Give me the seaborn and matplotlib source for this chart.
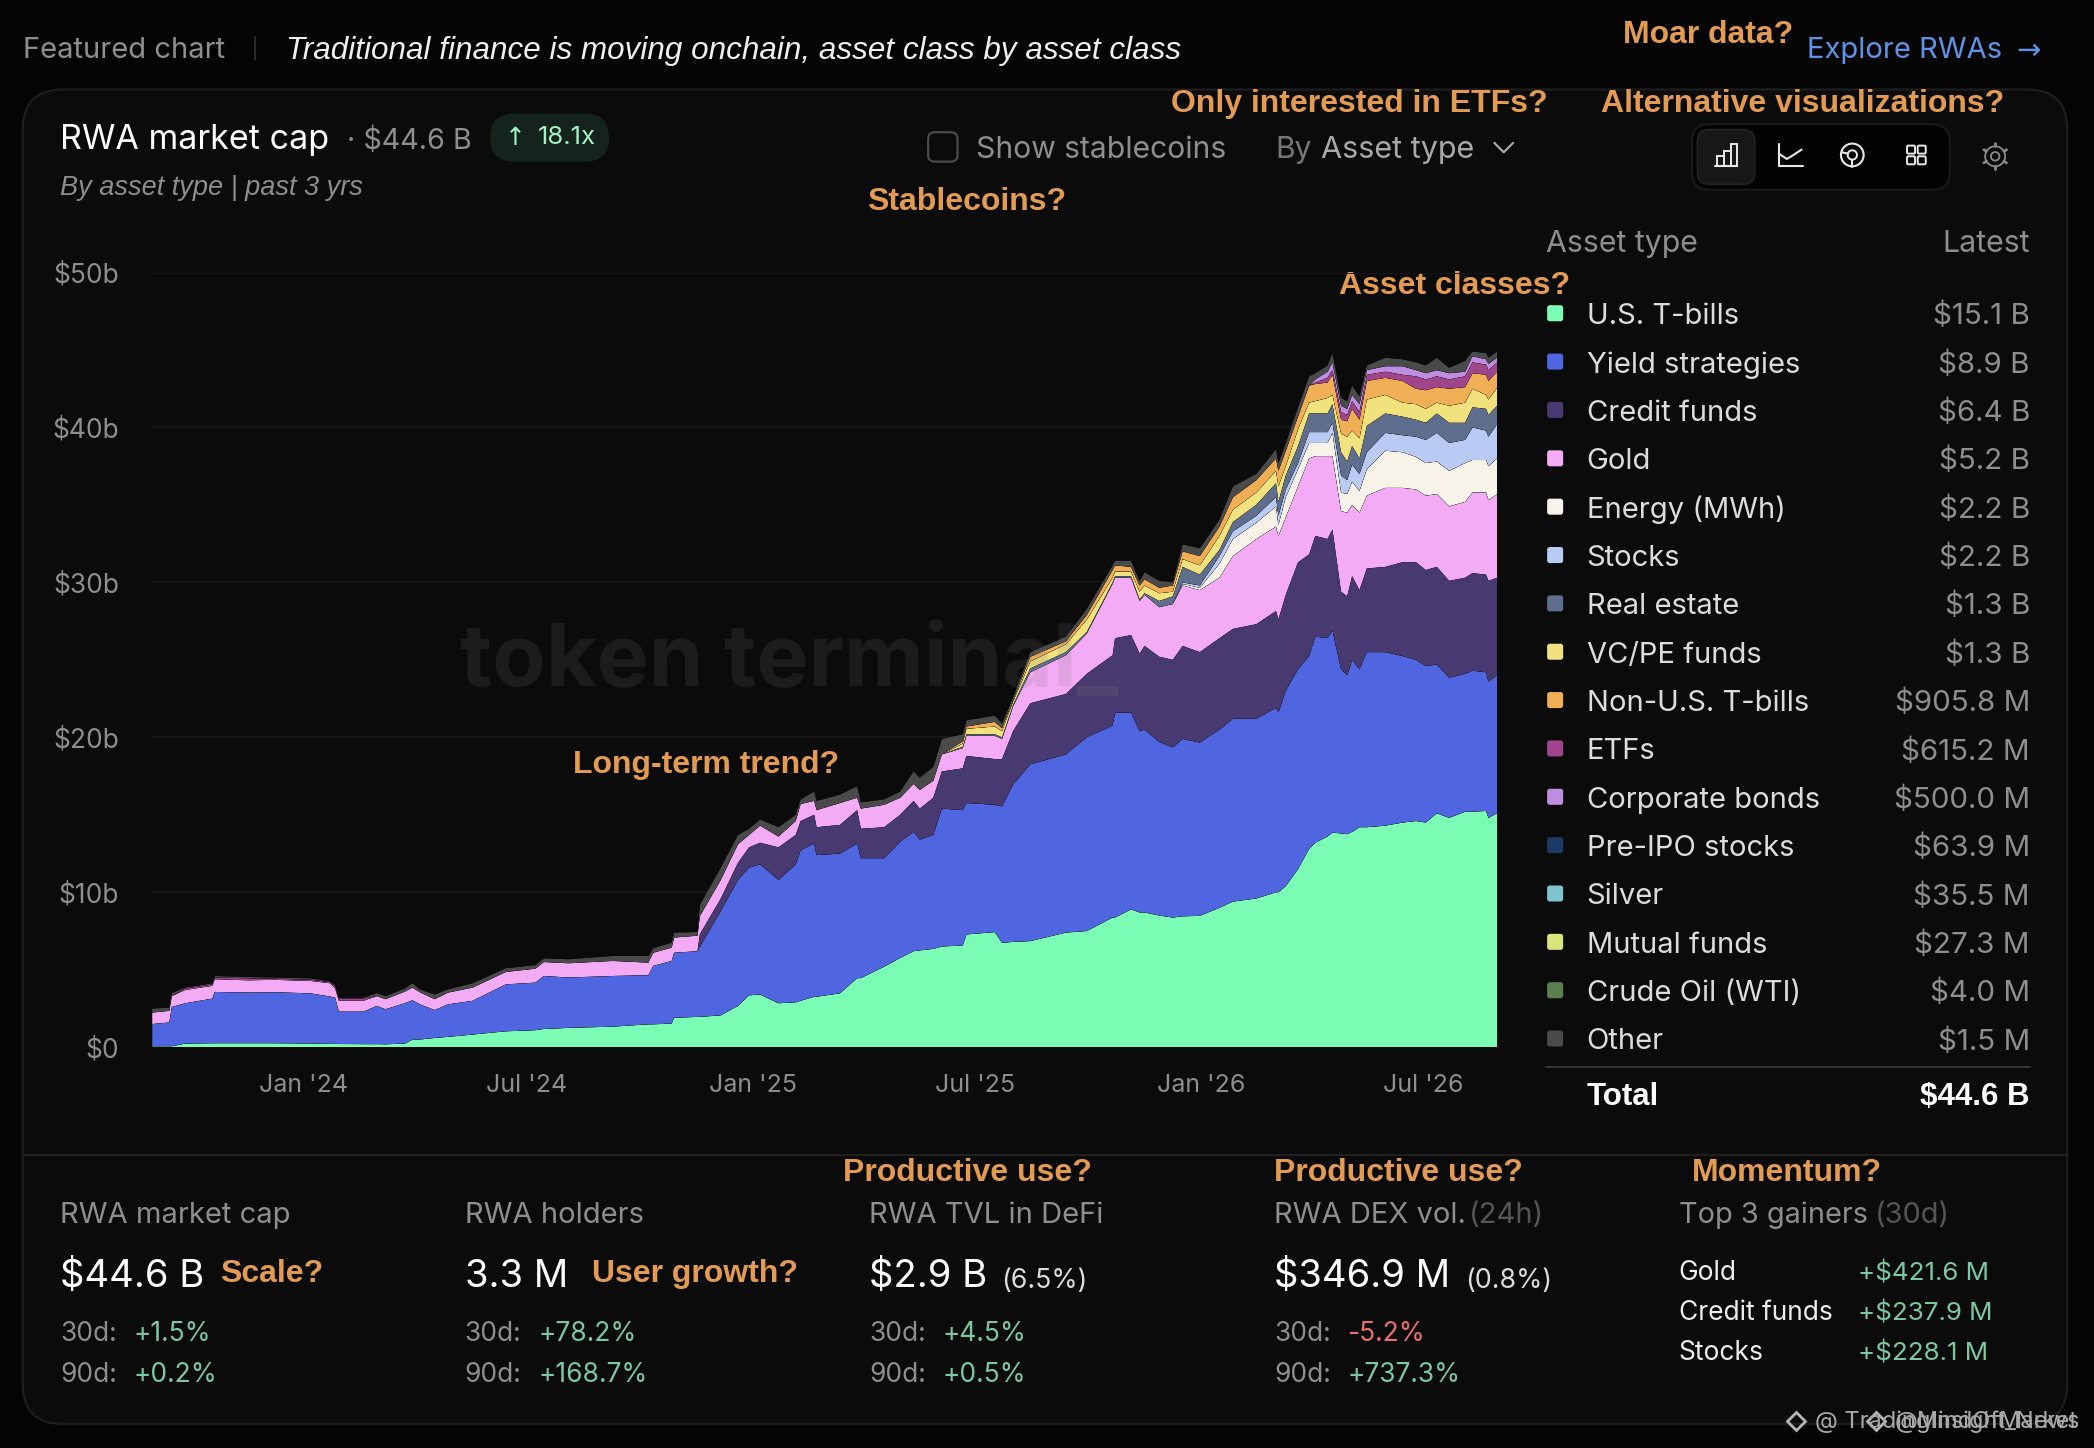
import datetime as dt
import numpy as np
import pandas as pd
import seaborn as sns
import seaborn.objects as so
import matplotlib
matplotlib.use("Agg")
import matplotlib.pyplot as plt
from matplotlib.patches import FancyBboxPatch, Rectangle, Circle

# ---------- data: top edge of each stacked band, in $ billions ----------
start_date = dt.date(2023, 8, 30)
end_date = dt.date(2026, 8, 30)
days = [1,15,17,28,50,52,79,101,130,146,150,153,173,184,191,207,213,219,231,242,262,289,313,320,340,376,405,409,424,426,445,
        447,464,478,487,496,511,525,529,540,542,561,575,578,597,610,621,626,637,644,661,664,687,693,702,716,745,762,783,785,798,
        805,809,821,832,840,854,870,881,900,916,918,924,934,943,948,958,962,969,974,978,984,990,1005,1019,1030,1038,1047,1057,1070,1076,1087,1089,1096]

tbills_top = [.06,.06,.06,.24,.26,.26,.26,.26,.24,.22,.22,.21,.2,.2,.19,.24,.5,.5,.6,.67,.82,1.03,1.1,1.18,1.25,1.33,1.48,1.48,1.53,1.9,1.96,
              1.96,2.06,2.67,3.35,3.4,2.84,2.9,3.0,3.26,3.26,3.48,4.46,4.46,5.2,5.76,6.2,6.25,6.35,6.5,6.57,
              7.28,7.43,6.74,6.8,6.85,7.4,7.5,8.37,8.37,8.9,8.7,8.7,8.5,8.37,8.45,8.48,9.0,9.4,9.6,10,
              10,10.4,11.5,12.8,13.2,13.6,13.85,13.8,13.75,13.9,14.2,14.2,14.3,14.5,14.6,14.5,15.1,14.8,15.2,15.2,15.25,14.8,15.1]
yield_top = [1.5,1.6,2.6,2.84,3.14,3.57,3.53,3.55,3.48,3.27,3.2,2.3,2.3,2.67,2.45,2.85,3.03,2.77,2.4,2.77,3.0,4.06,4.17,4.6,4.5,4.6,4.65,5.25,5.57,6.1,6.2,
             6.5,8.8,10.8,11.6,11.8,10.8,11.8,12.7,13.15,12.4,12.5,13.15,12.2,12.2,13.26,13.9,13.4,13.7,15.4,15.3,
             15.76,15.65,15.54,16.96,18.26,18.9,20,20.76,21.6,21.6,20.4,20.5,19.7,19.35,19.9,19.66,20.5,21.2,21.2,21.9,
             21.6,23,24.4,25.25,26.5,26.4,26.9,24.4,24,25,24.4,25.5,25.5,25.25,25,24.6,24.7,23.85,24.1,24.3,24.2,23.6,24]
credit_top = yield_top[:31] + [7.3,9.6,11.9,12.9,13.2,12.9,13.7,14.6,15,14.2,14.35,15.3,14.1,14.2,15,15.9,15.4,16.1,17.8,18,
             18.8,18.6,18.6,20.4,22.2,22.8,24.1,25.3,26.4,26.6,25.4,25.9,25.2,25,25.9,25.5,26.4,27,27.3,28.15,
             27.6,29.2,31.3,31.8,33,32.8,33.4,29.4,29.1,30.4,29.5,30.9,31,31.3,31.3,30.8,31,30.1,30.3,30.6,30.5,30.1,30.3]
gold_top = [2.24,2.35,3.3,3.7,3.96,4.39,4.32,4.35,4.28,4.13,3.8,3.0,3.0,3.3,3.1,3.6,3.85,3.55,3.1,3.53,3.85,4.86,5.07,5.5,5.42,5.57,5.46,6.1,6.43,7.08,7.2,
            8.47,10.8,13.1,13.7,14.3,13.6,14.6,15.7,15.9,15.3,15.76,16.1,15.4,15.65,16.1,17,16.6,17.2,18.9,19.3,
            20.1,20.1,19.9,22,24.2,25.3,26.7,29.9,30.3,30.3,28.8,29.2,28.4,28.6,29.8,29.5,30.3,31.7,32.8,33.6,
            33,34.2,36.2,38,38.15,38.15,38.15,34.6,34.5,35,34.5,35.6,36.1,36.1,36,35.6,35.7,34.9,35.2,35.8,35.8,35.3,35.7]
energy_top = gold_top[:65] + [29.9,29.65,31.2,32.8,33.85,34.9,33.7,35.5,37.3,39,39,39,39.65,35.8,35.7,36.5,
             35.9,37.3,38.5,38.4,38.1,37.7,37.8,37.2,37.7,37.9,37.9,37.5,38]
stocks_top = gold_top[:65] + [30,29.8,31.7,33.3,34.3,35.5,34.3,36,37.7,39.7,39.7,39.7,40.3,36.9,36.6,37.6,
             37,38.4,39.65,39.5,39.4,39.2,39.65,39,39.2,40,39.8,39.4,40.2]
realestate_top = gold_top[:50] + [19.4,20.2,20.2,20,22.1,24.45,25.5,26.8,30,30.4,30.4,28.9,29.3,28.8,29.1,31,30.5,32.1,33.9,35,
             36.4,35.2,36.9,38.8,40.9,40.9,40.9,41.5,38.4,37.8,38.8,38,40.1,40.9,40.7,40.5,40.3,40.9,40.3,40.3,41.3,41.2,40.8,41.4]
vcpe_top = gold_top[:50] + [19.6,20.55,20.7,20.4,22.3,24.9,26,27.6,30.3,30.7,30.7,29.4,29.8,29.3,29.4,31.5,31.1,33,34.7,35.8,
             37.2,36.2,37.5,39.9,41.6,41.7,41.9,42.1,39.6,39.4,39.8,39.3,41.8,42.1,41.6,41.5,41.2,41.6,41.4,41.6,42.5,42.1,41.8,42.55]
nonus_top = gold_top[:50] + [19.75,20.7,21,20.6,22.4,25.2,26.2,27.9,30.8,31.1,31,29.8,30.2,29.65,29.8,32,31.7,33.6,35.5,36.6,
             38,37.2,38.5,40.7,42.7,42.8,42.9,43.4,40.5,40.4,41.2,40.5,43,43.2,43,42.5,42.4,42.6,42.5,42.6,43.5,43.4,43,43.6]
etf_top = [2.24,2.35,3.3,3.8,4.05,4.5,4.45,4.42,4.36,4.2,3.95,3.15,3.15,3.3] + gold_top[14:31] + nonus_top[31:75] + \
          [42.9,43.2,43.7,41,40.8,41.7,41,43.4,43.6,43.4,43.3,43.1,43.3,43.1,43.3,44.2,44.05,43.7,44.2]
corp_top = etf_top[:75] + [43.1,43.6,44.2,41.4,41.2,42.1,41.5,43.7,43.95,43.95,43.7,43.5,43.7,43.5,43.6,44.6,44.4,44.1,44.5]
total_top = [2.5,2.55,3.5,3.85,4.13,4.6,4.54,4.5,4.45,4.24,4.0,3.2,3.2,3.5,3.3,3.8,4.13,3.74,3.4,3.74,4.13,5.1,5.3,5.74,5.68,5.89,5.89,6.39,6.75,7.4,7.44,
             9.2,11.6,13.7,14.1,14.7,14.2,15.0,16.0,16.5,15.9,16.3,16.85,15.8,16,16.5,17.8,17.4,18.1,19.9,20.2,
             21.1,21.4,20.9,22.6,25.5,26.5,28.3,31.1,31.4,31.4,30.1,30.65,30.1,30,32.45,32.2,34.06,36.2,37,38.6,
             37.7,39,41.3,43.3,43.5,44,44.8,41.9,41.7,42.7,42,44,44.5,44.4,44.2,44,44.5,43.85,44.3,44.9,44.8,44.5,44.9]

stack_names = ["U.S. T-bills","Yield strategies","Credit funds","Gold","Energy (MWh)","Stocks","Real estate",
               "VC/PE funds","Non-U.S. T-bills","ETFs","Corporate bonds","Other"]
stack_tops = [tbills_top,yield_top,credit_top,gold_top,energy_top,stocks_top,realestate_top,vcpe_top,nonus_top,etf_top,corp_top,total_top]

legend_names = ["U.S. T-bills","Yield strategies","Credit funds","Gold","Energy (MWh)","Stocks","Real estate","VC/PE funds",
                "Non-U.S. T-bills","ETFs","Corporate bonds","Pre-IPO stocks","Silver","Mutual funds","Crude Oil (WTI)","Other"]
legend_latest = ["$15.1 B","$8.9 B","$6.4 B","$5.2 B","$2.2 B","$2.2 B","$1.3 B","$1.3 B","$905.8 M","$615.2 M","$500.0 M",
                 "$63.9 M","$35.5 M","$27.3 M","$4.0 M","$1.5 M"]
legend_colors = ["#7BFDB5","#4F66E0","#483A70","#F3ABF5","#F7F3E8","#B9CAF5","#5F6E8C","#F2E27E","#F0AE55","#A0458C",
                 "#BE8FE0","#1D3A66","#7FC4CC","#D9E57A","#5B7F4E","#4A4A4A"]
palette = dict(zip(legend_names, legend_colors))

ytick_vals = [0,10,20,30,40,50]
ytick_labels = ["$0","$10b","$20b","$30b","$40b","$50b"]
xtick_dates = [dt.date(2024,1,1),dt.date(2024,7,1),dt.date(2025,1,1),dt.date(2025,7,1),dt.date(2026,1,1),dt.date(2026,7,1)]
xtick_labels = ["Jan '24","Jul '24","Jan '25","Jul '25","Jan '26","Jul '26"]

# ---------- table ----------
dates = [start_date + dt.timedelta(days=d) for d in days]
rows = []
prev = np.zeros(len(days))
for name, top in zip(stack_names, stack_tops):
    top = np.asarray(top, float)
    rows.append(pd.DataFrame({"date": pd.to_datetime(dates), "asset": name, "value": np.clip(top - prev, 0, None)}))
    prev = np.maximum(prev, top)
df = pd.concat(rows, ignore_index=True)

# ---------- theme and figure ----------
sns.set_theme(style="dark", rc={"axes.facecolor": "none", "figure.facecolor": "#040404", "savefig.facecolor": "#040404"})
plt.rcParams["font.family"] = ["Inter", "DejaVu Sans"]
W, H = 1568.0, 1084.0
fig = plt.figure(figsize=(20.94, 14.48), dpi=100)
ui = fig.add_axes([0, 0, 1, 1], zorder=0)
ui.set_xlim(0, W); ui.set_ylim(H, 0); ui.axis("off")

ORANGE = "#E39B52"; GRAY = "#8E8E8E"; LIGHT = "#DCDCDC"; GREEN = "#7CC8A0"; RED = "#E8706E"; BAR = "#202020"
ITAL = "Liberation Sans"

def t(x, y, s, size=21, color=LIGHT, ha="left", family=None, **kw):
    if family is not None:
        kw["family"] = family
    ui.text(x, y + 2, s, fontsize=size, color=color, ha=ha, va="center", **kw)

def note(x, y, s):
    t(x, y - 1, s, size=23, color=ORANGE, family="Liberation Sans", fontweight="bold")

# card
ui.add_patch(FancyBboxPatch((17, 67), 1531, 999, boxstyle="round,pad=0,rounding_size=30",
                            fc="#0B0B0B", ec="#1E1E1E", lw=1.6))
ui.plot([17, 1548], [865, 865], color=BAR, lw=1.5)

# ---------- chart ----------
ax = fig.add_axes([113/W, 1-784/H, (1121-113)/W, (784-204)/H], zorder=1)
(so.Plot(df, x="date", y="value", color="asset")
   .add(so.Area(alpha=1, edgewidth=0), so.Stack(), legend=False)
   .scale(color=so.Nominal(palette, order=stack_names))
   .on(ax).plot())
ax.set_xlim(pd.Timestamp(start_date), pd.Timestamp(end_date))
ax.set_ylim(0, 50)
ax.set_yticks(ytick_vals, ytick_labels)
ax.set_xticks(pd.to_datetime(xtick_dates), xtick_labels)
ax.set_xlabel(""); ax.set_ylabel("")
ax.set_facecolor("none")
ax.grid(False)
ax.grid(axis="y", color="#181818", lw=1.3)
ax.set_axisbelow(True)
sns.despine(ax=ax, left=True, bottom=True, right=True, top=True)
ax.tick_params(axis="y", length=0, pad=23, labelsize=19, labelcolor=GRAY)
ax.tick_params(axis="x", length=10, width=1.2, color="#1F1F1F", pad=9, labelsize=18, labelcolor=GRAY)
for lab in ax.get_xticklabels() + ax.get_yticklabels():
    lab.set_family(["Inter", "DejaVu Sans"])
ax.text(591/W, 1-497/H, "token terminal_", transform=fig.transFigure, ha="center", va="center",
        fontsize=63, fontweight="bold", color="#7A7A7A", alpha=0.16, zorder=10)

# ---------- header ----------
t(17, 36, "Featured chart", color=GRAY)
ui.plot([191, 191], [28, 45], color="#2A2A2A", lw=1.4)
t(214, 36, "Traditional finance is moving onchain, asset class by asset class", size=22.6, color="#F0F0F0", family=ITAL, style="italic")
note(1215, 25, "Moar data?")
t(1353, 36, "Explore RWAs", color="#5E93E8")
t(1510, 36, "→", color="#5E93E8", family="DejaVu Sans")

t(45, 103, "RWA market cap", size=24.5, color="#FFFFFF")
t(260, 104, "· $44.6 B", size=20.7, color=GRAY)
ui.add_patch(FancyBboxPatch((367, 85), 89, 36, boxstyle="round,pad=0,rounding_size=18", fc="#14241C", ec="none"))
t(378, 101, "↑", size=18, color="#A6F0C8", family="DejaVu Sans")
t(403, 101, "18.1x", size=18.5, color="#A6F0C8")
t(45, 139, "By asset type | past 3 yrs", size=19.5, color=GRAY, family=ITAL, style="italic")

ui.add_patch(FancyBboxPatch((695, 99), 22, 22, boxstyle="round,pad=0,rounding_size=5", fc="none", ec="#4A4A4A", lw=1.6))
t(731, 110, "Show stablecoins", size=21.6, color=GRAY)
t(955, 110, "By", size=21.6, color="#777777")
t(989, 110, "Asset type", size=22, color="#A8A8A8")
ui.plot([1119, 1126, 1133], [107, 114, 107], color="#A8A8A8", lw=1.6)

note(877, 77, "Only interested in ETFs?")
note(1199, 77, "Alternative visualizations?")
note(649, 150, "Stablecoins?")
note(1003, 213, "Asset classes?")
note(429, 572, "Long-term trend?")

# toolbar icons
ui.add_patch(FancyBboxPatch((1267, 93), 193, 49, boxstyle="round,pad=0,rounding_size=13", fc="#030303", ec="#1B1B1B", lw=1.4))
ui.add_patch(FancyBboxPatch((1271, 97), 43, 41, boxstyle="round,pad=0,rounding_size=9", fc="#171717", ec="#222222", lw=1.2))
ic = dict(color="#E8E8E8", lw=1.5, solid_capstyle="round")
ui.plot([1284, 1301], [124, 124], **ic)
for x0, y0 in [(1286, 117), (1291, 113), (1296, 108)]:
    ui.add_patch(Rectangle((x0, y0), 5, 124-y0, fc="none", ec="#E8E8E8", lw=1.4))
ui.plot([1332, 1332, 1350], [108, 124, 124], **ic)
ui.plot([1332, 1338, 1343, 1349], [115, 119, 116, 112], **ic)
ui.add_patch(Circle((1387, 116), 8.5, fc="none", ec="#E8E8E8", lw=1.5))
ui.add_patch(Circle((1387, 116), 3.5, fc="#030303", ec="#E8E8E8", lw=1.4))
ui.plot([1379, 1384], [114, 115], **ic); ui.plot([1387, 1387], [120, 125], **ic)
for cx in (1431, 1439):
    for cy in (112, 120):
        ui.add_patch(FancyBboxPatch((cx-3, cy-3), 6, 6, boxstyle="round,pad=0,rounding_size=1", fc="none", ec="#E8E8E8", lw=1.4))
ui.add_patch(Circle((1494, 117), 3.2, fc="none", ec="#8A8A8A", lw=1.3))
ui.add_patch(Circle((1494, 117), 7.5, fc="none", ec="#8A8A8A", lw=1.3))
for a in np.deg2rad(np.arange(0, 360, 60) + 30):
    ui.plot([1494+7.5*np.cos(a), 1494+9.8*np.cos(a)], [117+7.5*np.sin(a), 117+9.8*np.sin(a)], color="#8A8A8A", lw=2)

# ---------- legend table ----------
t(1158, 181, "Asset type", color=GRAY, size=21.8)
t(1520, 181, "Latest", color=GRAY, size=21.8, ha="right")
ys = np.linspace(235, 778, len(legend_names))
for yy, n, v, c in zip(ys, legend_names, legend_latest, legend_colors):
    ui.add_patch(FancyBboxPatch((1158.5, yy-6.5), 12, 12, boxstyle="round,pad=0,rounding_size=2", fc=c, ec="none"))
    t(1188, yy, n, size=21, color=LIGHT)
    t(1520, yy, v, size=21.3, color=GRAY, ha="right")
ui.plot([1158, 1520], [799, 799], color="#3A3A3A", lw=1.3)
t(1188, 819, "Total", size=22.5, color="#FFFFFF", family="Liberation Sans", fontweight="bold")
t(1520, 819, "$44.6 B", size=22.5, color="#FFFFFF", ha="right", family="Liberation Sans", fontweight="bold")

# ---------- bottom stats ----------
cols = [45, 348, 651, 954]
titles = ["RWA market cap", "RWA holders", "RWA TVL in DeFi", "RWA DEX vol."]
values = ["$44.6 B", "3.3 M", "$2.9 B", "$346.9 M"]
d30 = ["+1.5%", "+78.2%", "+4.5%", "-5.2%"]
d90 = ["+0.2%", "+168.7%", "+0.5%", "+737.3%"]
for x, ti, v, a, b in zip(cols, titles, values, d30, d90):
    t(x, 908, ti, size=21, color=GRAY)
    t(x, 954, v, size=27.5, color="#FFFFFF")
    t(x, 997, "30d:", size=19, color=GRAY)
    t(x, 1027, "90d:", size=19, color=GRAY)
    t(x+55, 997, a, size=19, color=RED if a.startswith("-") else GREEN)
    t(x+55, 1027, b, size=19, color=GREEN)
t(1100, 908, "(24h)", size=21, color="#555555")
t(750, 957, "(6.5%)", size=19.3, color=LIGHT)
t(1097, 957, "(0.8%)", size=19.3, color=LIGHT)
note(165, 953, "Scale?")
note(443, 953, "User growth?")
note(631, 877, "Productive use?")
note(954, 877, "Productive use?")
note(1267, 877, "Momentum?")
t(1257, 908, "Top 3 gainers", size=20.8, color=GRAY)
t(1404, 908, "(30d)", size=20.8, color="#555555")
gainers = ["Gold", "Credit funds", "Stocks"]
gains = ["+$421.6 M", "+$237.9 M", "+$228.1 M"]
for yy, g, v in zip([951, 981, 1011], gainers, gains):
    t(1257, yy, g, size=19, color="#EDEDED")
    t(1391, yy, v, size=18.7, color=GREEN)

# overlapped source stamps
for x0, s in [(1345, "@ TradingInsight_News"), (1405, "@MindOfMarket")]:
    ui.plot([x0], [1064], marker="D", ms=9, mfc="none", mec="#B5B5B5", mew=2)
    t(x0+14, 1062, s, size=17, color="#A8A8A8")

fig.savefig("out.png", dpi=100)
